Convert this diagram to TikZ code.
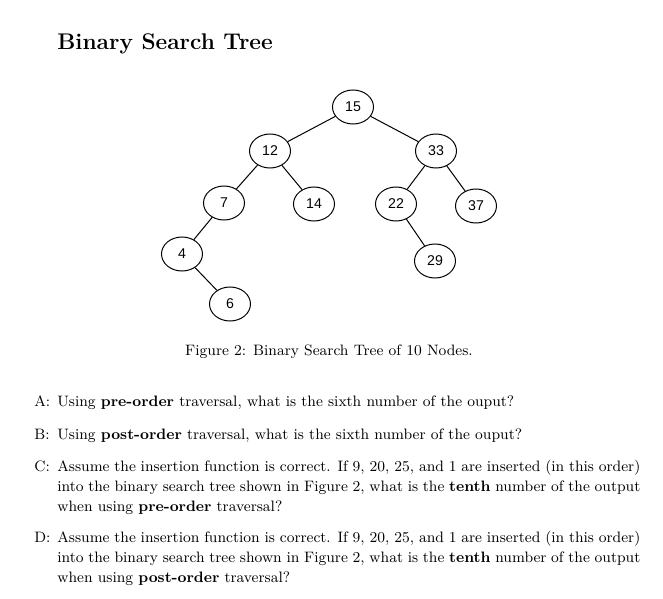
\documentclass[tikz,border=0pt]{standalone}
\usepackage{fontspec}
\newfontfamily\nodefont{Liberation Sans}
\usetikzlibrary{shapes.geometric}
\begin{document}
\begin{tikzpicture}[x=0.6pt,y=-0.6pt,
  bst/.style={draw,ellipse,line width=0.6pt,minimum width=24.6pt,minimum height=20.4pt,inner sep=0pt,font=\nodefont\fontsize{8.5}{10}\selectfont},
  edge/.style={line width=0.6pt},
  txt/.style={anchor=base west,inner sep=0pt,font=\fontsize{9.05}{12}\selectfont}]
\useasboundingbox (0,0) rectangle (663,599);
% title
\node[anchor=base west,inner sep=0pt,font=\fontsize{13.6}{16}\selectfont\bfseries] (title) at (57,50) {Binary Search Tree};
% tree nodes
\node[bst] (n15) at (353,107) {15};
\node[bst] (n12) at (270,151) {12};
\node[bst] (n33) at (436,151) {33};
\node[bst] (n7) at (224,203) {7};
\node[bst] (n14) at (314,204) {14};
\node[bst] (n22) at (396,204) {22};
\node[bst] (n37) at (476,206) {37};
\node[bst] (n4) at (182,254) {4};
\node[bst] (n29) at (435,261) {29};
\node[bst] (n6) at (230,304) {6};
\draw[edge] (n15) -- (n12);
\draw[edge] (n15) -- (n33);
\draw[edge] (n12) -- (n7);
\draw[edge] (n12) -- (n14);
\draw[edge] (n33) -- (n22);
\draw[edge] (n33) -- (n37);
\draw[edge] (n7) -- (n4);
\draw[edge] (n4) -- (n6);
\draw[edge] (n22) -- (n29);
% caption
\node[anchor=base,inner sep=0pt,font=\fontsize{9.05}{12}\selectfont] (cap) at (329,355) {Figure 2: Binary Search Tree of 10 Nodes.};
% questions
\node[txt] (la) at (34,406) {A:};
\node[txt] (qa) at (57,406) {\parbox[t]{349.8pt}{Using \textbf{pre-order} traversal, what is the sixth number of the ouput?}};
\node[txt] (lb) at (34,439) {B:};
\node[txt] (qb) at (57,439) {\parbox[t]{349.8pt}{Using \textbf{post-order} traversal, what is the sixth number of the ouput?}};
\node[txt] (lc) at (34,471) {C:};
\node[txt] (qc) at (57,471) {\parbox[t]{349.8pt}{Assume the insertion function is correct. If 9, 20, 25, and 1 are inserted (in this order) into the binary search tree shown in Figure 2, what is the \textbf{tenth} number of the output when using \textbf{pre-order} traversal?}};
\node[txt] (ld) at (34,542) {D:};
\node[txt] (qd) at (57,542) {\parbox[t]{349.8pt}{Assume the insertion function is correct. If 9, 20, 25, and 1 are inserted (in this order) into the binary search tree shown in Figure 2, what is the \textbf{tenth} number of the output when using \textbf{post-order} traversal?}};
\end{tikzpicture}
\end{document}
